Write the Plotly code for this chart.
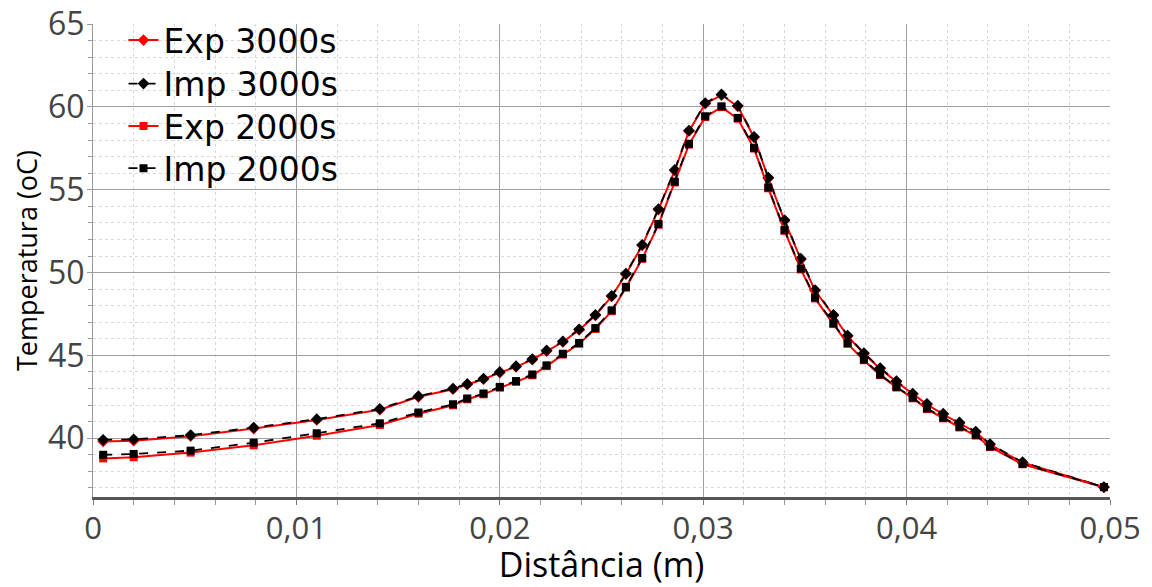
import plotly.graph_objects as go

distancia = [0.0005, 0.002, 0.0048, 0.0079, 0.011, 0.0141, 0.016, 0.0177, 0.0184, 0.0192,
             0.0200, 0.0208, 0.0216, 0.0223, 0.0231, 0.0239, 0.0247, 0.0255, 0.0262, 0.0270,
             0.0278, 0.0286, 0.0293, 0.0301, 0.0309, 0.0317, 0.0325, 0.0332, 0.0340, 0.0348,
             0.0355, 0.0364, 0.0371, 0.0379, 0.0387, 0.0395, 0.0403, 0.0410, 0.0418, 0.0426,
             0.0434, 0.0441, 0.0457, 0.0497]

imp_3000 = [39.90, 39.93, 40.19, 40.64, 41.15, 41.77, 42.54, 43.00, 43.28, 43.60,
            44.00, 44.35, 44.78, 45.30, 45.85, 46.58, 47.45, 48.60, 49.94, 51.68,
            53.84, 56.20, 58.58, 60.24, 60.76, 60.08, 58.20, 55.74, 53.17, 50.84,
            48.95, 47.45, 46.20, 45.14, 44.24, 43.45, 42.70, 42.08, 41.48, 40.95,
            40.40, 39.65, 38.55, 37.05]

exp_3000 = [39.80, 39.85, 40.12, 40.58, 41.10, 41.72, 42.50, 42.96, 43.24, 43.56,
            43.96, 44.31, 44.74, 45.26, 45.81, 46.54, 47.41, 48.56, 49.90, 51.64,
            53.80, 56.16, 58.54, 60.20, 60.72, 60.04, 58.16, 55.70, 53.13, 50.80,
            48.91, 47.41, 46.16, 45.10, 44.20, 43.41, 42.66, 42.04, 41.44, 40.91,
            40.36, 39.62, 38.53, 37.04]

imp_2000 = [39.00, 39.05, 39.25, 39.73, 40.30, 40.90, 41.55, 42.05, 42.40, 42.70,
            43.10, 43.45, 43.85, 44.40, 45.10, 45.75, 46.65, 47.72, 49.14, 50.88,
            52.94, 55.49, 57.78, 59.44, 60.04, 59.34, 57.54, 55.14, 52.57, 50.24,
            48.49, 46.94, 45.74, 44.75, 43.85, 43.10, 42.45, 41.80, 41.24, 40.69,
            40.20, 39.50, 38.45, 37.05]

exp_2000 = [38.78, 38.85, 39.13, 39.57, 40.15, 40.80, 41.48, 41.99, 42.35, 42.65,
            43.05, 43.40, 43.80, 44.35, 45.05, 45.70, 46.60, 47.67, 49.09, 50.83,
            52.89, 55.44, 57.73, 59.39, 59.99, 59.29, 57.49, 55.09, 52.52, 50.19,
            48.44, 46.89, 45.70, 44.71, 43.81, 43.06, 42.41, 41.76, 41.20, 40.65,
            40.16, 39.47, 38.43, 37.04]

x_ticks = [0, 0.01, 0.02, 0.03, 0.04, 0.05]
x_labels = ["0", "0,01", "0,02", "0,03", "0,04", "0,05"]
y_ticks = [40, 45, 50, 55, 60, 65]

FONT = "Open Sans"
LEG_FONT = dict(size=33, color="#000000", family="DejaVu Sans")

# legend rows (paper y of each entry centre)
leg_y = [0.966, 0.874, 0.784, 0.695]
leg_names = ["legend", "legend2", "legend3", "legend4"]

fig = go.Figure()
fig.add_trace(go.Scatter(x=distancia, y=exp_3000, name="Exp 3000s", mode="lines+markers",
                         line=dict(color="#ff0000", width=2),
                         marker=dict(symbol="diamond", size=9, color="#ff0000"),
                         legend="legend"))
fig.add_trace(go.Scatter(x=distancia, y=imp_3000, name="Imp 3000s", mode="lines+markers",
                         line=dict(color="#000000", width=1.8, dash="dash"),
                         marker=dict(symbol="diamond", size=9, color="#000000"),
                         legend="legend2"))
fig.add_trace(go.Scatter(x=distancia, y=exp_2000, name="Exp 2000s", mode="lines+markers",
                         line=dict(color="#ff0000", width=2),
                         marker=dict(symbol="square", size=8, color="#ff0000"),
                         legend="legend3"))
fig.add_trace(go.Scatter(x=distancia, y=imp_2000, name="Imp 2000s", mode="lines+markers",
                         line=dict(color="#000000", width=1.8, dash="dash"),
                         marker=dict(symbol="square", size=8, color="#000000"),
                         legend="legend4"))

legends = {}
for nm, yy in zip(leg_names, leg_y):
    legends[nm] = dict(x=0.030, y=yy, xanchor="left", yanchor="middle",
                       bgcolor="rgba(0,0,0,0)", font=LEG_FONT, itemwidth=30)

fig.update_layout(
    width=1152, height=587,
    margin=dict(l=93, r=42, t=21, b=90),
    paper_bgcolor="white", plot_bgcolor="white",
    font=dict(family=FONT, color="#000000"),
    showlegend=True,
    **legends,
)
fig.update_xaxes(
    range=[0, 0.05], tickvals=x_ticks, ticktext=x_labels, automargin=False,
    tickfont=dict(size=31, color="#444444", family=FONT),
    title=dict(text="Distância (m)", font=dict(size=34, color="#000000", family=FONT), standoff=0),
    showgrid=True, gridcolor="#a0a0a0", gridwidth=1,
    showline=True, linecolor="#555555", linewidth=3,
    ticks="outside", ticklen=5, tickcolor="#777777", ticklabelstandoff=-3,
    minor=dict(dtick=0.002, showgrid=True, gridcolor="#d9d9d9", griddash="dot",
               ticks="outside", ticklen=5, tickcolor="#999999"),
    zeroline=False,
)
fig.update_yaxes(
    range=[36.45, 65.01], tickmode="linear", tick0=40, dtick=5, automargin=False,
    tickfont=dict(size=32, color="#444444", family=FONT),
    title=dict(text="Temperatura (oC)", font=dict(size=27, color="#000000", family=FONT), standoff=2),
    showgrid=True, gridcolor="#a0a0a0", gridwidth=1,
    showline=True, linecolor="#999999", linewidth=1,
    ticks="outside", ticklen=5, tickcolor="#999999", ticklabelstandoff=-4,
    minor=dict(dtick=1, showgrid=True, gridcolor="#d9d9d9", griddash="dot",
               ticks="outside", ticklen=4, tickcolor="#999999"),
    zeroline=False,
)

fig.write_html("out.html")
